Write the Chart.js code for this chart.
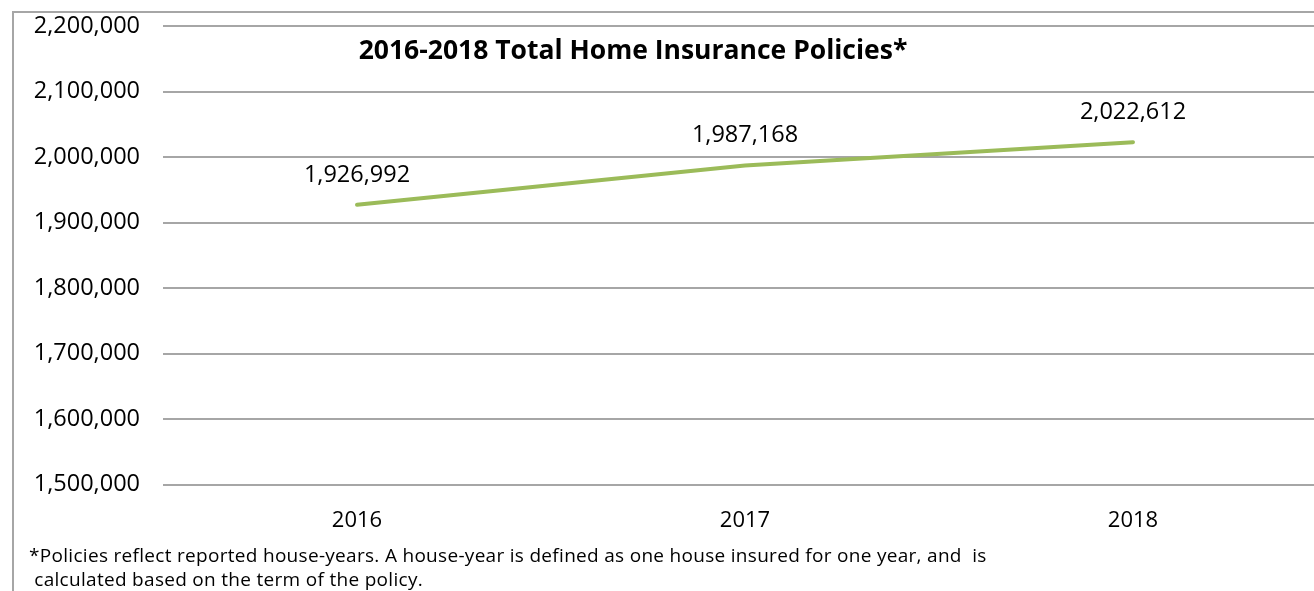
<!DOCTYPE html>
<html>
<head>
<meta charset="utf-8">
<script src="https://cdn.jsdelivr.net/npm/chart.js@4"></script>
<style>
  html, body { margin:0; padding:0; background:#fff; overflow:hidden; width:1314px; height:591px; }
  #frame { position:absolute; left:12px; top:11px; width:1320px; height:600px; border-left:2px solid #a6a6a6; border-top:2px solid #a6a6a6; box-sizing:border-box; }
  #wrap { position:absolute; left:0; top:0; }
  .note { position:absolute; left:29px; font-family:"Open Sans",sans-serif; font-size:19px; line-height:26px; color:#000; white-space:pre; letter-spacing:0.3px; }
</style>
</head>
<body>
<div id="frame"></div>
<div id="wrap"><canvas id="chart" width="1340" height="591"></canvas></div>
<div class="note" style="top:542px">*Policies reflect reported house-years. A house-year is defined as one house insured for one year, and  is</div>
<div class="note" style="top:566px"> calculated based on the term of the policy.</div>
<script>
// ===== DATA =====
const years = ['2016', '2017', '2018'];
const policies = [1926992, 1987168, 2022612];
const yTicks = [1500000, 1600000, 1700000, 1800000, 1900000, 2000000, 2100000, 2200000];
const chartTitle = '2016-2018 Total Home Insurance Policies*';

const fmt = v => Number(v).toLocaleString('en-US');
const FONT = '"Open Sans", sans-serif';

// title + value labels drawn on top of the plot
const labelsPlugin = {
  id: 'labels',
  afterDatasetsDraw(chart) {
    const ctx = chart.ctx;
    const meta = chart.getDatasetMeta(0);
    ctx.save();
    ctx.fillStyle = '#000';
    ctx.textAlign = 'center';
    ctx.textBaseline = 'middle';
    ctx.font = `23.5px ${FONT}`;
    meta.data.forEach((pt, i) => {
      ctx.fillText(fmt(policies[i]), pt.x, pt.y - 30);
    });
    ctx.font = `bold 26.5px ${FONT}`;
    ctx.fillText(chartTitle, 633, 51);
    ctx.restore();
  }
};

new Chart(document.getElementById('chart').getContext('2d'), {
  type: 'line',
  data: {
    labels: years,
    datasets: [{
      data: policies,
      borderColor: '#9bbb59',
      borderWidth: 4,
      pointRadius: 0,
      tension: 0,
      fill: false,
      borderCapStyle: 'round'
    }]
  },
  options: {
    responsive: false,
    animation: false,
    devicePixelRatio: 1,
    layout: { padding: { top: 26, bottom: 56.5, left: 0, right: 13 } },
    plugins: { legend: { display: false }, tooltip: { enabled: false }, title: { display: false } },
    scales: {
      x: {
        offset: true,
        grid: { display: false },
        border: { display: false },
        ticks: { color: '#000', font: { family: FONT, size: 22 }, padding: 15, maxRotation: 0 },
        afterFit: s => { s.height = 50; s.paddingLeft = 0; s.paddingRight = 0; }
      },
      y: {
        min: yTicks[0],
        max: yTicks[yTicks.length - 1],
        afterBuildTicks: s => { s.ticks = yTicks.map(v => ({ value: v })); },
        grid: { color: '#a6a6a6', lineWidth: 2, drawTicks: false },
        border: { display: false },
        ticks: { color: '#000', font: { family: FONT, size: 23.5 }, padding: 23, callback: v => fmt(v) },
        afterFit: s => { s.width = 163; s.paddingTop = 0; s.paddingBottom = 0; }
      }
    }
  },
  plugins: [labelsPlugin]
});
</script>
</body>
</html>
